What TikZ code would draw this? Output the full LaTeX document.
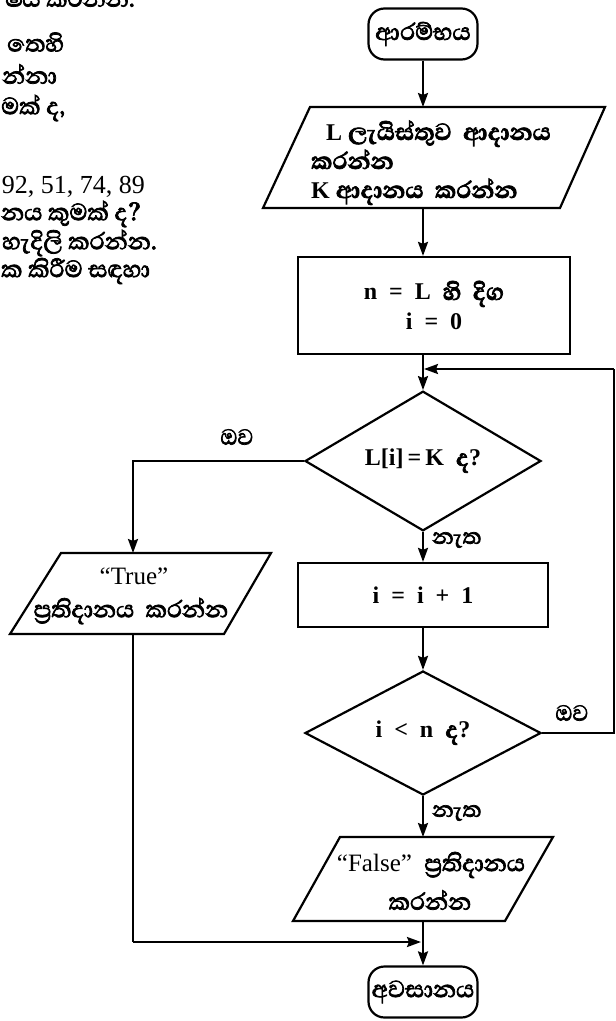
\documentclass[tikz,border=0pt]{standalone}
\usepackage{fontspec}
\setmainfont{Liberation Serif}
\newfontfamily\sifont[Script=Sinhala,FakeBold=2.5]{Abhaya Libre}
\newcommand\snh[1]{{\sifont\fontsize{30}{30}\selectfont #1}}
\usetikzlibrary{shapes.geometric,arrows.meta}
\tikzset{
  ln/.style={line width=2.2pt},
  arr/.style={ln,-{Stealth[length=14pt,width=10pt,inset=2pt]}},
  term/.style={draw,ln,rounded corners=16pt,minimum width=109pt,minimum height=51pt,inner sep=0pt,font=\sifont\fontsize{30}{34}\selectfont},
  proc/.style={draw,ln,inner sep=0pt,align=center,font=\bfseries\fontsize{24}{30}\selectfont},
  dec/.style={draw,ln,diamond,inner sep=0pt,minimum width=236pt,minimum height=124pt,font=\bfseries\fontsize{24}{28}\selectfont},
  io/.style={ln,line join=miter},
  txt/.style={inner sep=0pt,font=\bfseries\fontsize{24}{28}\selectfont},
  lbl/.style={inner sep=0pt,font=\sifont\fontsize{28}{30}\selectfont},
  side/.style={inner sep=0pt,anchor=west,font=\sifont\fontsize{30}{32}\selectfont},
}
\begin{document}
\begin{tikzpicture}[x=1pt,y=-1pt]
\useasboundingbox (0,0) rectangle (616,1021);
\fill[white] (0,0) rectangle (616,1021);
% side text (cut from page)
\node[side,anchor=east] (s0) at (135,-3) {ෂය කරන්න.};
\node[side] (s1) at (7,42) {තෙහි};
\node[side] (s2) at (2,74) {න්නා};
\node[side] (s3) at (1,108) {මක් ද,};
\node[side,anchor=east,font=\fontsize{26}{30}\selectfont] (s4) at (145,187) {92, 51, 74, 89};
\node[side] (s5) at (1,214) {නය කුමක් ද?};
\node[side] (s6) at (2,243) {හැදිලි කරන්න.};
\node[side] (s7) at (1,271) {ක කිරීම සඳහා};
% flowchart
\node[term] (start) at (423,34) {ආරම්භය};
\draw[io] (310,107) -- (605,107) -- (560,208) -- (263,208) -- cycle;
\coordinate (p1n) at (423,107);
\coordinate (p1s) at (423,208);
\node[txt,anchor=base west] (p1a) at (326,140) {L\ \snh{ලැයිස්තුව\ \ ආදානය}};
\node[txt,anchor=base west] (p1b) at (311,169) {\snh{කරන්න}};
\node[txt,anchor=base west] (p1c) at (311,198) {K\ \snh{ආදානය\ \ කරන්න}};
\node[proc,minimum width=272pt,minimum height=97pt] (init) at (434,305.5) {n\ \ =\ \ L\ \ \snh{හි\ \ දිග}\\ i\ \ =\ \ 0};
\node[dec] (d1) at (423,461) {L[i]\,=\,K\ \ \snh{ද}?};
\node[proc,minimum width=250pt,minimum height=64pt] (inc) at (423,595) {i\ \ =\ \ i\ \ +\ \ 1};
\node[dec] (d2) at (423,733) {i\ \ <\ \ n\ \ \snh{ද}?};
% True output
\draw[io] (61,553) -- (271,553) -- (224,634) -- (10,634) -- cycle;
\coordinate (tpn) at (133,553);
\coordinate (tps) at (133,634);
\node[inner sep=0pt,font=\fontsize{25}{28}\selectfont] (tq) at (134,576) {“True”};
\node[inner sep=0pt] (tr) at (131,611) {\snh{ප්^^^^200dරතිදානය\ \ කරන්න}};
% False output
\draw[io] (340,837) -- (553,837) -- (505,921) -- (293,921) -- cycle;
\coordinate (fpn) at (423,837);
\coordinate (fps) at (423,921);
\node[inner sep=0pt,font=\fontsize{25}{28}\selectfont] (fq) at (431,865) {“False”\ \ \snh{ප්^^^^200dරතිදානය}};
\node[inner sep=0pt] (fr) at (430,900) {\snh{කරන්න}};
% end
\node[term] (stop) at (423,992) {අවසානය};
% labels
\node[lbl] (yes1) at (237,437) {ඔව};
\node[lbl,anchor=west] (no1) at (432,540) {නැත};
\node[lbl] (yes2) at (572,713) {ඔව};
\node[lbl,anchor=west] (no2) at (432,813) {නැත};
% connectors
\coordinate (loopin) at (424,369);
\coordinate (loopr) at (614,369);
\coordinate (lowleft) at (133,942);
\coordinate (merge) at (421,942);
\draw[arr] (start) -- (p1n);
\draw[arr] (p1s) -- (p1s |- init.north);
\draw[arr] (init.south -| d1.north) -- (d1.north);
\draw[ln] (d2.east) -- (d2.east -| loopr) -- (loopr);
\draw[arr] (loopr) -- (loopin);
\draw[arr] (d1.west) -| (tpn);
\draw[arr] (d1.south) -- (inc.north);
\draw[arr] (inc.south) -- (d2.north);
\draw[arr] (d2.south) -- (fpn);
\draw[arr] (fps) -- (stop.north);
\draw[ln] (tps) -- (lowleft);
\draw[arr] (lowleft) -- (merge);
\end{tikzpicture}
\end{document}
